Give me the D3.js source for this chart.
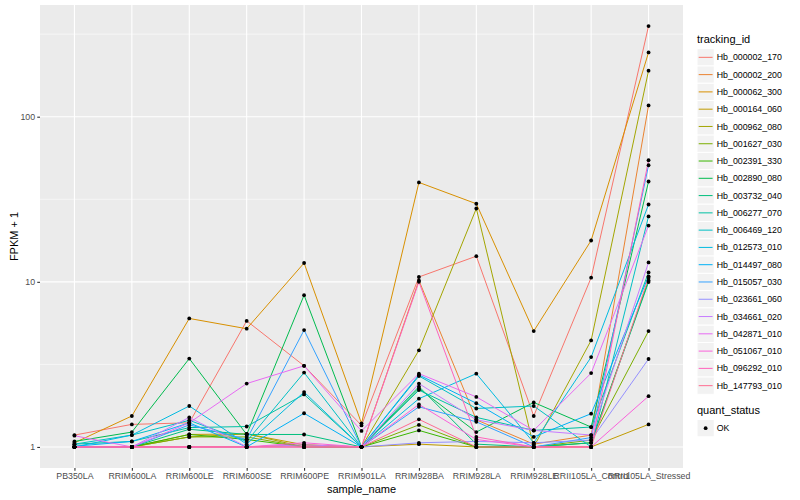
<!DOCTYPE html>
<html>
<head>
<meta charset="utf-8">
<script src="https://cdn.jsdelivr.net/npm/d3@7"></script>
<style>
  body { margin: 0; background: #fff; }
  svg { display: block; font-family: "Liberation Sans", Arial, sans-serif; }
</style>
</head>
<body>
<div id="chart"></div>
<script>
'use strict';

// sample names along the x axis
var samples = ['PB350LA', 'RRIM600LA', 'RRIM600LE', 'RRIM600SE', 'RRIM600PE', 'RRIM901LA',
  'RRIM928BA', 'RRIM928LA', 'RRIM928LE', 'RRII105LA_Control', 'RRII105LA_Stressed'];

var trackingIds = ['Hb_000002_170', 'Hb_000002_200', 'Hb_000062_300', 'Hb_000164_060', 'Hb_000962_080',
  'Hb_001627_030', 'Hb_002391_330', 'Hb_002890_080', 'Hb_003732_040', 'Hb_006277_070',
  'Hb_006469_120', 'Hb_012573_010', 'Hb_014497_080', 'Hb_015057_030', 'Hb_023661_060',
  'Hb_034661_020', 'Hb_042871_010', 'Hb_051067_010', 'Hb_096292_010', 'Hb_147793_010'];

// FPKM + 1, one row per tracking id, one column per sample
var fpkm = [
  [1.18, 1.37, 1.40, 5.80, 3.10, 1.35, 10.7, 14.3, 1.54, 10.6, 354],
  [1.00, 1.00, 1.00, 1.00, 1.03, 1.00, 10.2, 1.46, 1.04, 1.18, 117],
  [1.06, 1.54, 6.00, 5.20, 13.0, 1.39, 40.0, 29.7, 5.03, 17.8, 245],
  [1.00, 1.00, 1.19, 1.20, 1.03, 1.00, 1.04, 1.00, 1.00, 1.00, 1.37],
  [1.00, 1.00, 1.15, 1.20, 1.00, 1.00, 3.85, 27.8, 1.00, 4.42, 190],
  [1.00, 1.00, 1.15, 1.15, 1.00, 1.00, 1.36, 1.00, 1.00, 1.10, 5.03],
  [1.00, 1.00, 1.19, 1.11, 1.00, 1.00, 1.26, 1.00, 1.00, 1.06, 10.2],
  [1.08, 1.23, 3.43, 1.19, 8.30, 1.00, 2.26, 1.23, 1.86, 1.32, 40.5],
  [1.00, 1.00, 1.28, 1.19, 1.19, 1.00, 2.32, 1.04, 1.00, 1.06, 9.96],
  [1.04, 1.08, 1.31, 1.33, 2.08, 1.00, 2.21, 1.51, 1.26, 1.32, 11.4],
  [1.04, 1.18, 1.45, 1.08, 2.82, 1.00, 2.69, 1.71, 1.77, 1.00, 24.9],
  [1.00, 1.18, 1.77, 1.04, 2.15, 1.00, 1.96, 2.78, 1.06, 3.50, 29.4],
  [1.01, 1.08, 1.40, 1.00, 1.60, 1.00, 2.73, 1.84, 1.15, 1.59, 10.8],
  [1.00, 1.00, 1.36, 1.11, 5.10, 1.00, 1.75, 1.42, 1.00, 1.14, 50.8],
  [1.00, 1.00, 1.00, 1.00, 1.00, 1.00, 1.06, 1.08, 1.06, 1.10, 3.41],
  [1.00, 1.00, 1.51, 1.00, 1.03, 1.00, 2.42, 1.46, 1.26, 1.18, 13.1],
  [1.17, 1.00, 1.40, 2.42, 3.10, 1.25, 2.78, 2.01, 1.26, 2.80, 21.9],
  [1.00, 1.00, 1.00, 1.00, 1.06, 1.00, 1.81, 1.11, 1.00, 1.00, 2.03],
  [1.00, 1.00, 1.00, 1.00, 1.00, 1.00, 10.0, 1.15, 1.00, 1.00, 54.5],
  [1.00, 1.00, 1.00, 1.00, 1.00, 1.00, 1.47, 1.00, 1.00, 1.00, 10.6]
];

var quantStatus = ['OK'];
var yTicks = [1, 10, 100];
var yMinorTicks = [3.1623, 31.623, 316.23];

// ggplot hue palette for 20 levels
var palette = ['#F8766D', '#EA8331', '#D89000', '#C09B00', '#A3A500', '#7CAE00', '#39B600', '#00BB4E',
  '#00BF7D', '#00C1A3', '#00BFC4', '#00BAE0', '#00B0F6', '#35A2FF', '#9590FF', '#C77CFF',
  '#E76BF3', '#FA62DB', '#FF62BC', '#FF6C91'];

var width = 800, height = 500;
var panel = { left: 40, top: 5, right: 683, bottom: 468 };

var svg = d3.select('#chart').append('svg')
    .attr('width', width)
    .attr('height', height);

var x = d3.scalePoint()
    .domain(samples)
    .range([panel.left, panel.right])
    .padding(0.6);

// log scale with 5% expansion on the log range, like ggplot
var all = _flat(fpkm);
var lo = Math.log10(d3.min(all)), hi = Math.log10(d3.max(all));
var pad = (hi - lo) * 0.05;
var y = d3.scaleLog()
    .domain([Math.pow(10, lo - pad), Math.pow(10, hi + pad)])
    .range([panel.bottom, panel.top]);

function _flat(a) { return a.reduce(function(m, r){ return m.concat(r); }, []); }

svg.append('rect')
    .attr('x', panel.left).attr('y', panel.top)
    .attr('width', panel.right - panel.left)
    .attr('height', panel.bottom - panel.top)
    .attr('fill', '#EBEBEB');

var grid = svg.append('g').attr('stroke', '#fff').attr('fill', 'none');

grid.selectAll('.minor')
  .data(yMinorTicks.filter(function(v){ return y(v) > panel.top && y(v) < panel.bottom; }))
  .join('line')
    .attr('x1', panel.left).attr('x2', panel.right)
    .attr('y1', d => y(d)).attr('y2', d => y(d))
    .attr('stroke-width', 0.55);

grid.selectAll('.ymaj')
  .data(yTicks)
  .join('line')
    .attr('x1', panel.left).attr('x2', panel.right)
    .attr('y1', d => y(d)).attr('y2', d => y(d))
    .attr('stroke-width', 1.1);

grid.selectAll('.xmaj')
  .data(samples)
  .join('line')
    .attr('x1', d => x(d)).attr('x2', d => x(d))
    .attr('y1', panel.top).attr('y2', panel.bottom)
    .attr('stroke-width', 1.1);

var line = d3.line()
    .x(function(d, i){ return x(samples[i]); })
    .y(function(d){ return y(d); });

svg.append('g')
    .attr('fill', 'none')
    .attr('stroke-width', 1)
  .selectAll('path')
  .data(fpkm)
  .join('path')
    .attr('stroke', (d, i) => palette[i])
    .attr('d', line);

var pts = [];
fpkm.forEach(function(row){
  row.forEach(function(v, j){ pts.push({ s: samples[j], v: v }); });
});

svg.append('g')
  .selectAll('circle')
  .data(pts)
  .join('circle')
    .attr('cx', d => x(d.s))
    .attr('cy', d => y(d.v))
    .attr('r', 1.9)
    .attr('fill', '#000');

// axes
function styleAxis(g) {
  g.select('.domain').remove();
  g.selectAll('.tick line').attr('stroke', '#333333').attr('stroke-width', 1.1);
  g.selectAll('.tick text')
    .attr('fill', '#4D4D4D')
    .style('font-size', '8.8px')
    .style('font-family', '"Liberation Sans", Arial, sans-serif');
}

svg.append('g')
    .attr('transform', 'translate(' + panel.left + ',0)')
    .call(d3.axisLeft(y).tickValues(yTicks).tickFormat(d3.format('d')).tickSize(2.75).tickPadding(2.2))
    .call(styleAxis);

svg.append('g')
    .attr('transform', 'translate(0,' + panel.bottom + ')')
    .call(d3.axisBottom(x).tickSize(2.75).tickPadding(2.2))
    .call(styleAxis);

svg.append('text')
    .attr('x', (panel.left + panel.right) / 2)
    .attr('y', 493)
    .attr('text-anchor', 'middle')
    .style('font-size', '11px')
    .attr('fill', '#000')
    .text('sample_name');

svg.append('text')
    .attr('transform', 'translate(18,' + ((panel.top + panel.bottom) / 2) + ') rotate(-90)')
    .attr('text-anchor', 'middle')
    .style('font-size', '11px')
    .attr('fill', '#000')
    .text('FPKM + 1');

// legends
var lg = svg.append('g').attr('transform', 'translate(697,0)');
var keySize = 17.28, keyTop = 48.7;

lg.append('text')
    .attr('x', 0).attr('y', 43)
    .style('font-size', '11px')
    .text('tracking_id');

var item = lg.selectAll('.item')
  .data(trackingIds)
  .join('g')
    .attr('transform', (d, i) => 'translate(0,' + (keyTop + i * keySize) + ')');

item.append('rect')
    .attr('width', keySize).attr('height', keySize)
    .attr('fill', '#F2F2F2')
    .attr('stroke', '#fff');

item.append('line')
    .attr('x1', 1.7).attr('x2', keySize - 1.7)
    .attr('y1', keySize / 2).attr('y2', keySize / 2)
    .attr('stroke', (d, i) => palette[i])
    .attr('stroke-width', 1);

item.append('text')
    .attr('x', keySize + 2.5)
    .attr('y', keySize / 2)
    .attr('dy', '0.35em')
    .style('font-size', '8.8px')
    .text(d => d);

var qTop = 419.5;
lg.append('text')
    .attr('x', 0).attr('y', qTop - 5.5)
    .style('font-size', '11px')
    .text('quant_status');

var qItem = lg.selectAll('.qitem')
  .data(quantStatus)
  .join('g')
    .attr('transform', (d, i) => 'translate(0,' + (qTop + i * keySize) + ')');

qItem.append('rect')
    .attr('width', keySize).attr('height', keySize)
    .attr('fill', '#F2F2F2')
    .attr('stroke', '#fff');

qItem.append('circle')
    .attr('cx', keySize / 2).attr('cy', keySize / 2)
    .attr('r', 1.9).attr('fill', '#000');

qItem.append('text')
    .attr('x', keySize + 2.5)
    .attr('y', keySize / 2)
    .attr('dy', '0.35em')
    .style('font-size', '8.8px')
    .text(d => d);
</script>
</body>
</html>
